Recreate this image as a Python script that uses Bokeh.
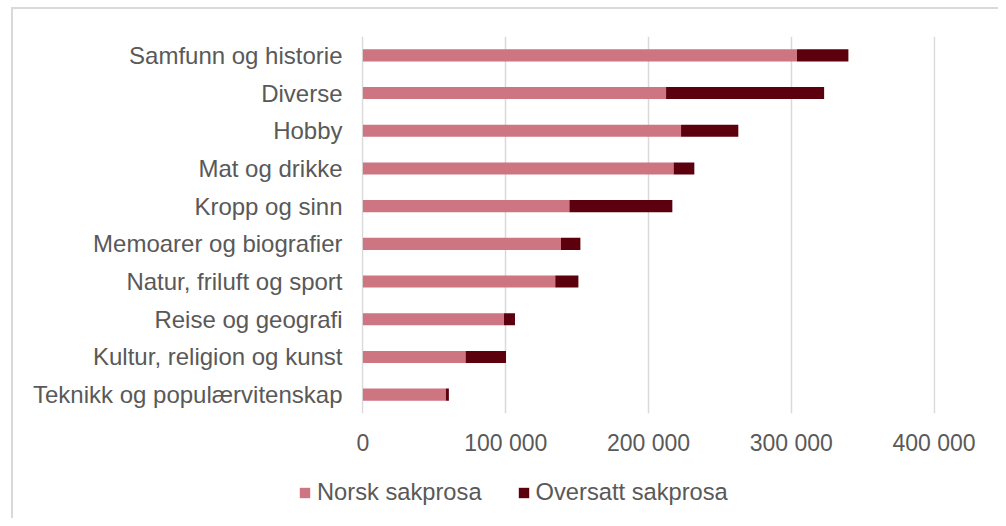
from bokeh.plotting import figure
from bokeh.layouts import column, row
from bokeh.models import (ColumnDataSource, FactorRange, Range1d, FixedTicker,
                          Legend, LegendItem)
from bokeh.embed import file_html
from bokeh.resources import INLINE

categories = ["Samfunn og historie", "Diverse", "Hobby", "Mat og drikke",
              "Kropp og sinn", "Memoarer og biografier", "Natur, friluft og sport",
              "Reise og geografi", "Kultur, religion og kunst",
              "Teknikk og populærvitenskap"]
norsk = [304000, 212300, 222800, 217600, 144600, 138700, 134700, 98800, 71900, 58100]
oversatt = [36000, 110700, 40100, 14500, 72100, 13600, 16200, 7700, 28300, 2100]
series_names = ["Norsk sakprosa", "Oversatt sakprosa"]
x_ticks = [0, 100000, 200000, 300000, 400000]
x_tick_labels = ["0", "100 000", "200 000", "300 000", "400 000"]

colors = ["#CE7582", "#5C000E"]
text_color = "#595959"
border_color = "#D9D9D9"
font = "Liberation Sans"

src = ColumnDataSource(dict(cat=categories, norsk=norsk, oversatt=oversatt))

W, H1, H2 = 998, 470, 48
p = figure(width=W, height=H1, output_backend="svg", toolbar_location=None,
           y_range=FactorRange(factors=list(reversed(categories)), range_padding=0),
           x_range=Range1d(-1000, 401000),
           min_border_left=361, min_border_top=36, min_border_bottom=H1 - 413,
           min_border_right=W - 935)
p.outline_line_color = None
p.background_fill_color = "white"
p.border_fill_color = None

rs = p.hbar_stack(["norsk", "oversatt"], y="cat", height=0.32, color=colors,
                  line_color=None, source=src)

p.ygrid.grid_line_color = None
p.xgrid.grid_line_color = border_color
p.xgrid.grid_line_width = 1.5
p.xaxis.ticker = FixedTicker(ticks=x_ticks)
p.xaxis.major_label_overrides = {t: l for t, l in zip(x_ticks, x_tick_labels)}
p.xaxis.axis_line_color = None
p.xaxis.major_tick_line_color = None
p.xaxis.minor_tick_line_color = None
p.xaxis.major_label_standoff = 10
p.xaxis.major_label_text_font = font
p.xaxis.major_label_text_font_size = "23px"
p.xaxis.major_label_text_color = text_color

p.yaxis.axis_line_color = None
p.yaxis.major_tick_line_color = None
p.yaxis.minor_tick_line_color = None
p.yaxis.major_label_standoff = 13
p.yaxis.major_label_text_font = font
p.yaxis.major_label_text_font_size = "24px"
p.yaxis.major_label_text_color = text_color

# legend strip below the chart
lf = figure(width=W, height=H2, output_backend="svg", toolbar_location=None,
            x_range=Range1d(0, W), y_range=Range1d(0, H2),
            min_border=0, min_border_left=0, min_border_right=0,
            min_border_top=0, min_border_bottom=0)
lf.axis.visible = False
lf.grid.visible = False
lf.outline_line_color = None
lf.background_fill_color = None
lf.border_fill_color = None
lrs = [lf.hbar(y=[-100], left=[0], right=[1], height=1, color=c, line_color=None)
       for c in colors]
legend = Legend(items=[LegendItem(label=n, renderers=[r]) for n, r in zip(series_names, lrs)],
                location=(298, H2 - 36), orientation="horizontal",
                glyph_width=13, glyph_height=13, label_standoff=6, spacing=35,
                padding=0, margin=0, border_line_color=None,
                background_fill_alpha=0,
                label_text_font=font, label_text_font_size="23.7px",
                label_text_color=text_color)
lf.add_layout(legend, "center")

bg = ("linear-gradient(#D9D9D9, #D9D9D9) 11px 7px / 2px 700px no-repeat, "
      "linear-gradient(#D9D9D9, #D9D9D9) 11px 7px / 1100px 2px no-repeat, white")
layout = column(p, row(lf), spacing=0, styles={"background": bg})
open("out.html", "w").write(file_html(layout, INLINE))
